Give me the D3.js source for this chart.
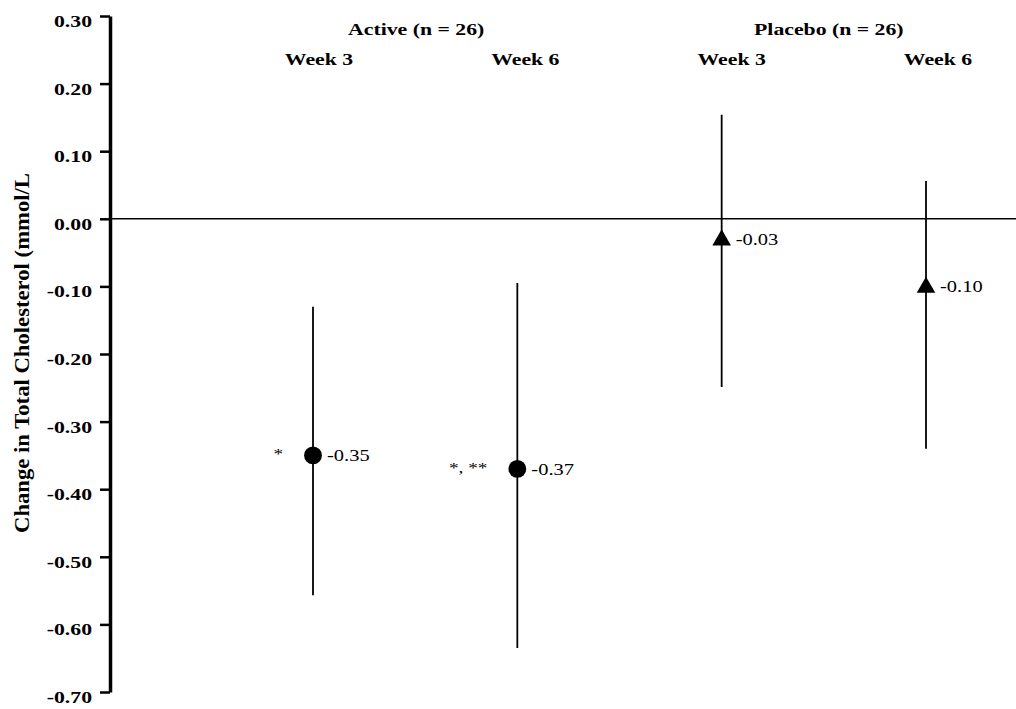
<!DOCTYPE html>
<html>
<head>
<meta charset="utf-8">
<script src="https://cdn.jsdelivr.net/npm/d3@7"></script>
<style>
  body { margin: 0; background: #fff; }
  svg { display: block; font-family: "Liberation Serif", "Times New Roman", serif; }
</style>
</head>
<body>
<svg id="chart" width="1016" height="709"></svg>
<script>
// data
const groups = ["Active (n = 26)", "Placebo (n = 26)"];
const categories = ["A3", "A6", "P3", "P6"];
const weekLabels = ["Week 3", "Week 6", "Week 3", "Week 6"];
const groupOf = [0, 0, 1, 1];
const means = [-0.35, -0.37, -0.03, -0.10];
const upper = [-0.13, -0.095, 0.154, 0.056];
const lower = [-0.557, -0.635, -0.249, -0.34];
const markers = ["circle", "circle", "triangle", "triangle"];
const sigLabels = ["*", "*, **", "", ""];
const yTicks = [0.30, 0.20, 0.10, 0.00, -0.10, -0.20, -0.30, -0.40, -0.50, -0.60, -0.70];

const svg = d3.select("#chart");
const width = 1016;
const stretch = 1.28; // reference text looks horizontally stretched

const y = d3.scaleLinear().domain([-0.70, 0.30]).range([692, 16]);
const x = d3.scalePoint().domain(categories).range([313, 926]);
const xLabel = d3.scalePoint().domain(categories).range([319, 938]);
const axisX = 110;

// zero line
svg.append("line")
  .attr("x1", axisX).attr("x2", width)
  .attr("y1", y(0)).attr("y2", y(0))
  .attr("stroke", "#000").attr("stroke-width", 1.6);

// y axis
const yAxis = svg.append("g")
  .attr("transform", `translate(${axisX},0)`)
  .call(d3.axisLeft(y).tickValues(yTicks).tickSize(10).tickSizeOuter(0)
    .tickFormat(d => d.toFixed(2)));
yAxis.select(".domain").attr("stroke-width", 3.5);
yAxis.selectAll(".tick line").attr("stroke-width", 2.5);
yAxis.selectAll(".tick text")
  .attr("x", -18 / stretch)
  .attr("dy", "0.62em")
  .attr("transform", `scale(${stretch},1)`)
  .attr("font-family", "Liberation Serif")
  .attr("font-weight", "bold")
  .attr("font-size", 17)
  .attr("fill", "#000");

// y axis title
svg.append("text")
  .attr("transform", `translate(29,353) rotate(-90) scale(1,${stretch})`)
  .attr("text-anchor", "middle")
  .attr("font-weight", "bold")
  .attr("font-size", 17)
  .attr("textLength", 360)
  .attr("lengthAdjust", "spacingAndGlyphs")
  .text("Change in Total Cholesterol (mmol/L");

// group headers
groups.forEach((g, gi) => {
  const cats = categories.filter((c, i) => groupOf[i] === gi);
  const cx = (xLabel(cats[0]) + xLabel(cats[1])) / 2;
  svg.append("text")
    .attr("transform", `translate(${cx - 6},35) scale(${stretch},1)`)
    .attr("text-anchor", "middle")
    .attr("font-weight", "bold")
    .attr("font-size", 17)
    .text(g);
});

// week labels
svg.selectAll(".week")
  .data(categories)
  .enter()
  .append("text")
  .attr("class", "week")
  .attr("transform", d => `translate(${xLabel(d)},65) scale(${stretch},1)`)
  .attr("text-anchor", "middle")
  .attr("font-weight", "bold")
  .attr("font-size", 17)
  .text((d, i) => weekLabels[i]);

// error bars
svg.selectAll(".err")
  .data(categories)
  .enter()
  .append("line")
  .attr("class", "err")
  .attr("x1", d => x(d)).attr("x2", d => x(d))
  .attr("y1", (d, i) => y(upper[i]))
  .attr("y2", (d, i) => y(lower[i]))
  .attr("stroke", "#000")
  .attr("stroke-width", 1.8);

// markers
const sym = d3.symbol();
svg.selectAll(".pt")
  .data(categories)
  .enter()
  .append("path")
  .attr("class", "pt")
  .attr("transform", (d, i) => `translate(${x(d)},${y(means[i]) + (markers[i] === "triangle" ? 1 : 0)})`)
  .attr("d", (d, i) => markers[i] === "circle"
    ? sym.type(d3.symbolCircle).size(250)()
    : sym.type(d3.symbolTriangle).size(150)())
  .attr("fill", "#000");

// value labels
svg.selectAll(".val")
  .data(categories)
  .enter()
  .append("text")
  .attr("class", "val")
  .attr("transform", (d, i) => `translate(${x(d) + 14},${y(means[i]) + 6}) scale(${stretch},1)`)
  .attr("font-size", 16)
  .text((d, i) => means[i].toFixed(2));

// significance marks
svg.selectAll(".sig")
  .data(categories.filter((d, i) => sigLabels[i] !== ""))
  .enter()
  .append("text")
  .attr("class", "sig")
  .attr("transform", d => {
    const i = categories.indexOf(d);
    return `translate(${x(d) - 30},${y(means[i]) + 4}) scale(${stretch},1)`;
  })
  .attr("text-anchor", "end")
  .attr("font-size", 15)
  .text(d => sigLabels[categories.indexOf(d)]);
</script>
</body>
</html>
